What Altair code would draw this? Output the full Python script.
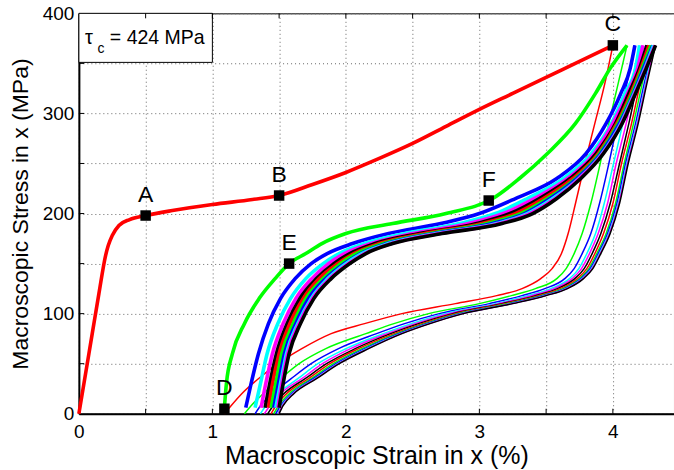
import altair as alt
import pandas as pd

FONT = "Liberation Sans"

# ---------------- data ----------------
# first loading, thick red: O -> A -> B -> C
load_strain = [0.0, 0.05, 0.10, 0.15, 0.20, 0.22, 0.25, 0.30, 0.38, 0.50, 0.70, 1.00,
               1.30, 1.50, 1.75, 2.00, 2.25, 2.50, 2.75, 3.00, 3.25, 3.50, 3.75, 4.00]
load_stress = [0, 40, 80, 120, 158, 168, 178, 188, 194, 198, 203, 209,
               214, 218, 229, 241, 255, 270, 287, 304, 320, 336, 352, 368]

# reloading curves (thick): strain at each stress level
reload_stress = [6, 30, 60, 90, 115, 135, 150, 160, 170, 180, 190, 200, 215, 235, 260, 290, 320, 345, 368]
reload_g2 = [1.09, 1.105, 1.15, 1.24, 1.35, 1.47, 1.575, 1.70, 1.82, 2.00, 2.35, 2.75, 3.10, 3.30, 3.51, 3.72, 3.87, 3.98, 4.106]
reload_b3 = [1.25, 1.29, 1.345, 1.42, 1.51, 1.62, 1.74, 1.86, 2.05, 2.32, 2.71, 3.00, 3.27, 3.58, 3.80, 3.95, 4.06, 4.13, 4.165]
reload_c4 = [1.32, 1.36, 1.41, 1.49, 1.585, 1.70, 1.83, 1.95, 2.14, 2.44, 2.85, 3.12, 3.36, 3.63, 3.84, 3.99, 4.09, 4.17, 4.20]
reload_m5 = [1.365, 1.40, 1.45, 1.53, 1.625, 1.745, 1.87, 1.99, 2.19, 2.50, 2.92, 3.18, 3.41, 3.66, 3.86, 4.00, 4.11, 4.185, 4.225]
reload_k6 = [1.395, 1.43, 1.48, 1.56, 1.655, 1.78, 1.91, 2.03, 2.22, 2.55, 2.98, 3.23, 3.45, 3.68, 3.875, 4.02, 4.12, 4.20, 4.255]
reload_r7 = [1.42, 1.45, 1.50, 1.58, 1.68, 1.80, 1.94, 2.06, 2.25, 2.59, 3.02, 3.27, 3.48, 3.70, 3.89, 4.03, 4.135, 4.21, 4.27]
reload_g8 = [1.44, 1.475, 1.52, 1.605, 1.70, 1.83, 1.96, 2.08, 2.28, 2.63, 3.06, 3.31, 3.51, 3.72, 3.90, 4.04, 4.145, 4.22, 4.285]
reload_b9 = [1.46, 1.495, 1.54, 1.625, 1.72, 1.85, 1.99, 2.11, 2.305, 2.66, 3.10, 3.34, 3.53, 3.73, 3.91, 4.05, 4.155, 4.23, 4.30]
reload_c10 = [1.475, 1.51, 1.555, 1.64, 1.74, 1.865, 2.00, 2.12, 2.32, 2.68, 3.13, 3.36, 3.55, 3.745, 3.92, 4.06, 4.16, 4.24, 4.305]
reload_m11 = [1.49, 1.52, 1.565, 1.65, 1.75, 1.88, 2.02, 2.14, 2.34, 2.70, 3.15, 3.38, 3.57, 3.75, 3.925, 4.065, 4.165, 4.245, 4.315]
reload_k12 = [1.50, 1.53, 1.575, 1.66, 1.76, 1.89, 2.03, 2.15, 2.35, 2.72, 3.17, 3.40, 3.58, 3.76, 3.93, 4.07, 4.17, 4.25, 4.32]

# unloading curves (thin): strain at each stress level
unload_stress = [368, 330, 290, 250, 210, 180, 160, 145, 135, 125, 118, 110, 100, 90, 80, 65, 50, 35, 20, 8, 0]
unload_r1 = [4.00, 3.94, 3.865, 3.79, 3.72, 3.665, 3.615, 3.545, 3.46, 3.32, 3.13, 2.82, 2.42, 2.14, 1.89, 1.67, 1.49, 1.345, 1.22, 1.14, 1.09]
unload_g2 = [4.106, 4.04, 3.97, 3.905, 3.835, 3.77, 3.71, 3.65, 3.58, 3.42, 3.24, 3.00, 2.62, 2.36, 2.15, 1.85, 1.65, 1.51, 1.38, 1.29, 1.24]
unload_b3 = [4.165, 4.105, 4.035, 3.97, 3.90, 3.835, 3.77, 3.71, 3.64, 3.49, 3.32, 3.075, 2.70, 2.44, 2.23, 1.945, 1.74, 1.59, 1.45, 1.36, 1.32]
unload_c4 = [4.20, 4.14, 4.075, 4.005, 3.935, 3.87, 3.805, 3.745, 3.675, 3.535, 3.36, 3.12, 2.74, 2.49, 2.28, 2.00, 1.79, 1.64, 1.49, 1.40, 1.36]
unload_m5 = [4.225, 4.165, 4.10, 4.025, 3.96, 3.89, 3.825, 3.765, 3.695, 3.56, 3.39, 3.145, 2.77, 2.52, 2.31, 2.035, 1.825, 1.67, 1.51, 1.43, 1.39]
unload_k6 = [4.255, 4.185, 4.12, 4.05, 3.98, 3.91, 3.845, 3.785, 3.715, 3.585, 3.42, 3.17, 2.80, 2.545, 2.335, 2.07, 1.855, 1.695, 1.535, 1.455, 1.415]
unload_r7 = [4.27, 4.205, 4.14, 4.065, 4.00, 3.93, 3.865, 3.805, 3.735, 3.605, 3.44, 3.19, 2.82, 2.57, 2.36, 2.095, 1.88, 1.72, 1.555, 1.475, 1.44]
unload_g8 = [4.285, 4.22, 4.155, 4.085, 4.02, 3.95, 3.88, 3.82, 3.75, 3.625, 3.46, 3.21, 2.84, 2.59, 2.38, 2.12, 1.905, 1.74, 1.575, 1.495, 1.46]
unload_b9 = [4.30, 4.235, 4.17, 4.095, 4.03, 3.96, 3.89, 3.83, 3.76, 3.64, 3.475, 3.23, 2.855, 2.605, 2.395, 2.14, 1.925, 1.755, 1.59, 1.51, 1.475]
unload_c10 = [4.305, 4.245, 4.18, 4.105, 4.04, 3.97, 3.90, 3.84, 3.77, 3.65, 3.49, 3.24, 2.87, 2.62, 2.41, 2.155, 1.94, 1.77, 1.60, 1.52, 1.49]
unload_m11 = [4.315, 4.25, 4.185, 4.11, 4.045, 3.975, 3.905, 3.845, 3.775, 3.655, 3.495, 3.245, 2.875, 2.625, 2.415, 2.165, 1.945, 1.775, 1.605, 1.525, 1.495]
unload_k12 = [4.32, 4.255, 4.19, 4.115, 4.05, 3.98, 3.91, 3.85, 3.78, 3.66, 3.50, 3.25, 2.88, 2.63, 2.42, 2.17, 1.95, 1.78, 1.61, 1.53, 1.50]

marker_names = ["A", "B", "C", "D", "E", "F"]
marker_strain = [0.50, 1.50, 4.00, 1.09, 1.575, 3.07]
marker_stress = [198, 218, 368, 5, 150, 213]

x_grid_values = [0, 0.5, 1, 1.5, 2, 2.5, 3, 3.5, 4]
y_grid_values = [0, 50, 100, 150, 200, 250, 300, 350, 400]

RED, GREEN, BLUE, CYAN, MAGENTA, BLACK = "#ff0000", "#00ff00", "#0000ff", "#00ffff", "#ff00ff", "#000000"

cycles = [
    (GREEN, reload_g2, unload_g2),
    (BLUE, reload_b3, unload_b3),
    (CYAN, reload_c4, unload_c4),
    (MAGENTA, reload_m5, unload_m5),
    (BLACK, reload_k6, unload_k6),
    (RED, reload_r7, unload_r7),
    (GREEN, reload_g8, unload_g8),
    (BLUE, reload_b9, unload_b9),
    (CYAN, reload_c10, unload_c10),
    (MAGENTA, reload_m11, unload_m11),
    (BLACK, reload_k12, unload_k12),
]

THICK, THIN = 3.6, 1.5

# ---------------- encodings ----------------
xaxis = alt.Axis(
    title="Macroscopic Strain in x (%)", values=x_grid_values,
    labelExpr="datum.value % 1 === 0 ? format(datum.value, 'd') : ''",
    grid=True, gridDash=[1, 3], gridColor="#666666", gridWidth=1,
    ticks=False, domainColor="black", domainWidth=2, labelFlush=False,
    labelFontSize=19, titleFontSize=25, labelPadding=9, titlePadding=2,
)
yaxis = alt.Axis(
    title="Macroscopic Stress in x (MPa)", values=y_grid_values,
    labelExpr="datum.value % 100 === 0 ? format(datum.value, 'd') : ''",
    grid=True, gridDash=[1, 3], gridColor="#666666", gridWidth=1,
    ticks=False, domainColor="black", domainWidth=2,
    labelFontSize=19, titleFontSize=23, labelPadding=5, titlePadding=10,
)
X = alt.X("s:Q", scale=alt.Scale(domain=[0, 4.458], nice=False, zero=False), axis=xaxis)
Y = alt.Y("t:Q", scale=alt.Scale(domain=[0, 400], nice=False), axis=yaxis)


def curve(strains, stresses, color, width):
    df = pd.DataFrame({"s": strains, "t": stresses})
    return alt.Chart(df).mark_line(color=color, strokeWidth=width, interpolate="monotone").encode(
        x=X, y=Y, order=alt.Order("s:Q")
    )


layers = []

# legend box
box_df = pd.DataFrame({"s": [0.0], "s2": [1.0], "t": [351], "t2": [400]})
layers.append(alt.Chart(box_df).mark_rect(fill="white", stroke="black", strokeWidth=1).encode(
    x=X, x2="s2", y=Y, y2="t2"))

# inward tick marks
bt = pd.DataFrame({"s": x_grid_values[1:], "t": [0] * 8, "t2": [5] * 8})
tt = pd.DataFrame({"s": x_grid_values[1:], "t": [395] * 8, "t2": [400] * 8})
lt = pd.DataFrame({"t": y_grid_values[1:-1], "s": [0] * 7, "s2": [0.04] * 7})
layers.append(alt.Chart(bt).mark_rule(color="black", strokeWidth=1).encode(x=X, y=Y, y2="t2"))
layers.append(alt.Chart(tt).mark_rule(color="black", strokeWidth=1).encode(x=X, y=Y, y2="t2"))
layers.append(alt.Chart(lt).mark_rule(color="black", strokeWidth=1).encode(x=X, x2="s2", y=Y))

# curves
layers.append(curve(load_strain, load_stress, RED, THICK))
layers.append(curve(unload_r1, unload_stress, RED, THIN))
for color, rl, ul in cycles:
    layers.append(curve(rl, reload_stress, color, THICK))
    layers.append(curve(ul, unload_stress, color, THIN))

# markers + labels
mk = pd.DataFrame({"s": marker_strain, "t": marker_stress, "name": marker_names})
layers.append(alt.Chart(mk).mark_square(size=110, color="black", opacity=1).encode(x=X, y=Y))
layers.append(alt.Chart(mk).mark_text(dy=-21, fontSize=23, font=FONT, color="black", baseline="middle").encode(
    x=X, y=Y, text="name:N"))

# tau_c annotation
tau_df = pd.DataFrame({"s": [0.045], "t": [375], "txt": ["τ"]})
sub_df = pd.DataFrame({"s": [0.14], "t": [364], "txt": ["c"]})
val_df = pd.DataFrame({"s": [0.232], "t": [375], "txt": ["= 424 MPa"]})
layers.append(alt.Chart(tau_df).mark_text(fontSize=20, font=FONT, align="left", baseline="middle", color="black").encode(
    x=X, y=Y, text="txt:N"))
layers.append(alt.Chart(sub_df).mark_text(fontSize=14, font=FONT, align="left", baseline="middle", color="black").encode(
    x=X, y=Y, text="txt:N"))
layers.append(alt.Chart(val_df).mark_text(fontSize=19.5, font=FONT, align="left", baseline="middle", color="black").encode(
    x=X, y=Y, text="txt:N"))

chart = alt.layer(*layers).properties(
    width=596, height=401,
    autosize=alt.AutoSizeParams(type="none"),
    padding={"left": 79, "top": 13, "right": 0, "bottom": 56},
    background="white",
).configure_view(stroke="black", strokeWidth=1).configure_axis(
    labelFont=FONT, titleFont=FONT, labelColor="black", titleColor="black", titleFontWeight="normal"
)

chart.save("out.html", embed_options={"renderer": "svg", "actions": False})
